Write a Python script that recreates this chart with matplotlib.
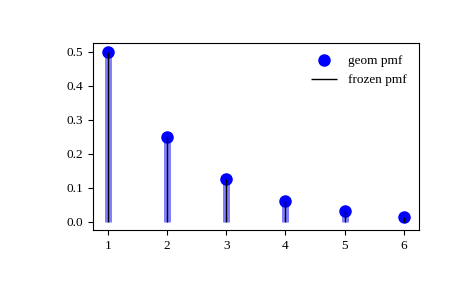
import matplotlib
matplotlib.use("Agg")
from matplotlib import pyplot as plt
import numpy as np

plt.rcParams['font.family'] = ['Liberation Serif', 'DejaVu Serif']
plt.rcParams['font.size'] = 9.5

# geometric distribution, p = 0.5
x = np.array([1, 2, 3, 4, 5, 6])
pmf = np.array([0.5, 0.25, 0.125, 0.0625, 0.03125, 0.015625])

fig, ax = plt.subplots(1, 1, figsize=(4.65, 2.88), dpi=100)
fig.subplots_adjust(left=0.2, right=0.9, bottom=0.2, top=0.85)

ax.plot(x, pmf, 'bo', ms=8, label='geom pmf')
ax.vlines(x, 0, pmf, colors='b', lw=5, alpha=0.5)
ax.vlines(x, 0, pmf, colors='k', linestyles='-', lw=1, label='frozen pmf')
ax.legend(loc='best', frameon=False)

fig.savefig("out.png")
